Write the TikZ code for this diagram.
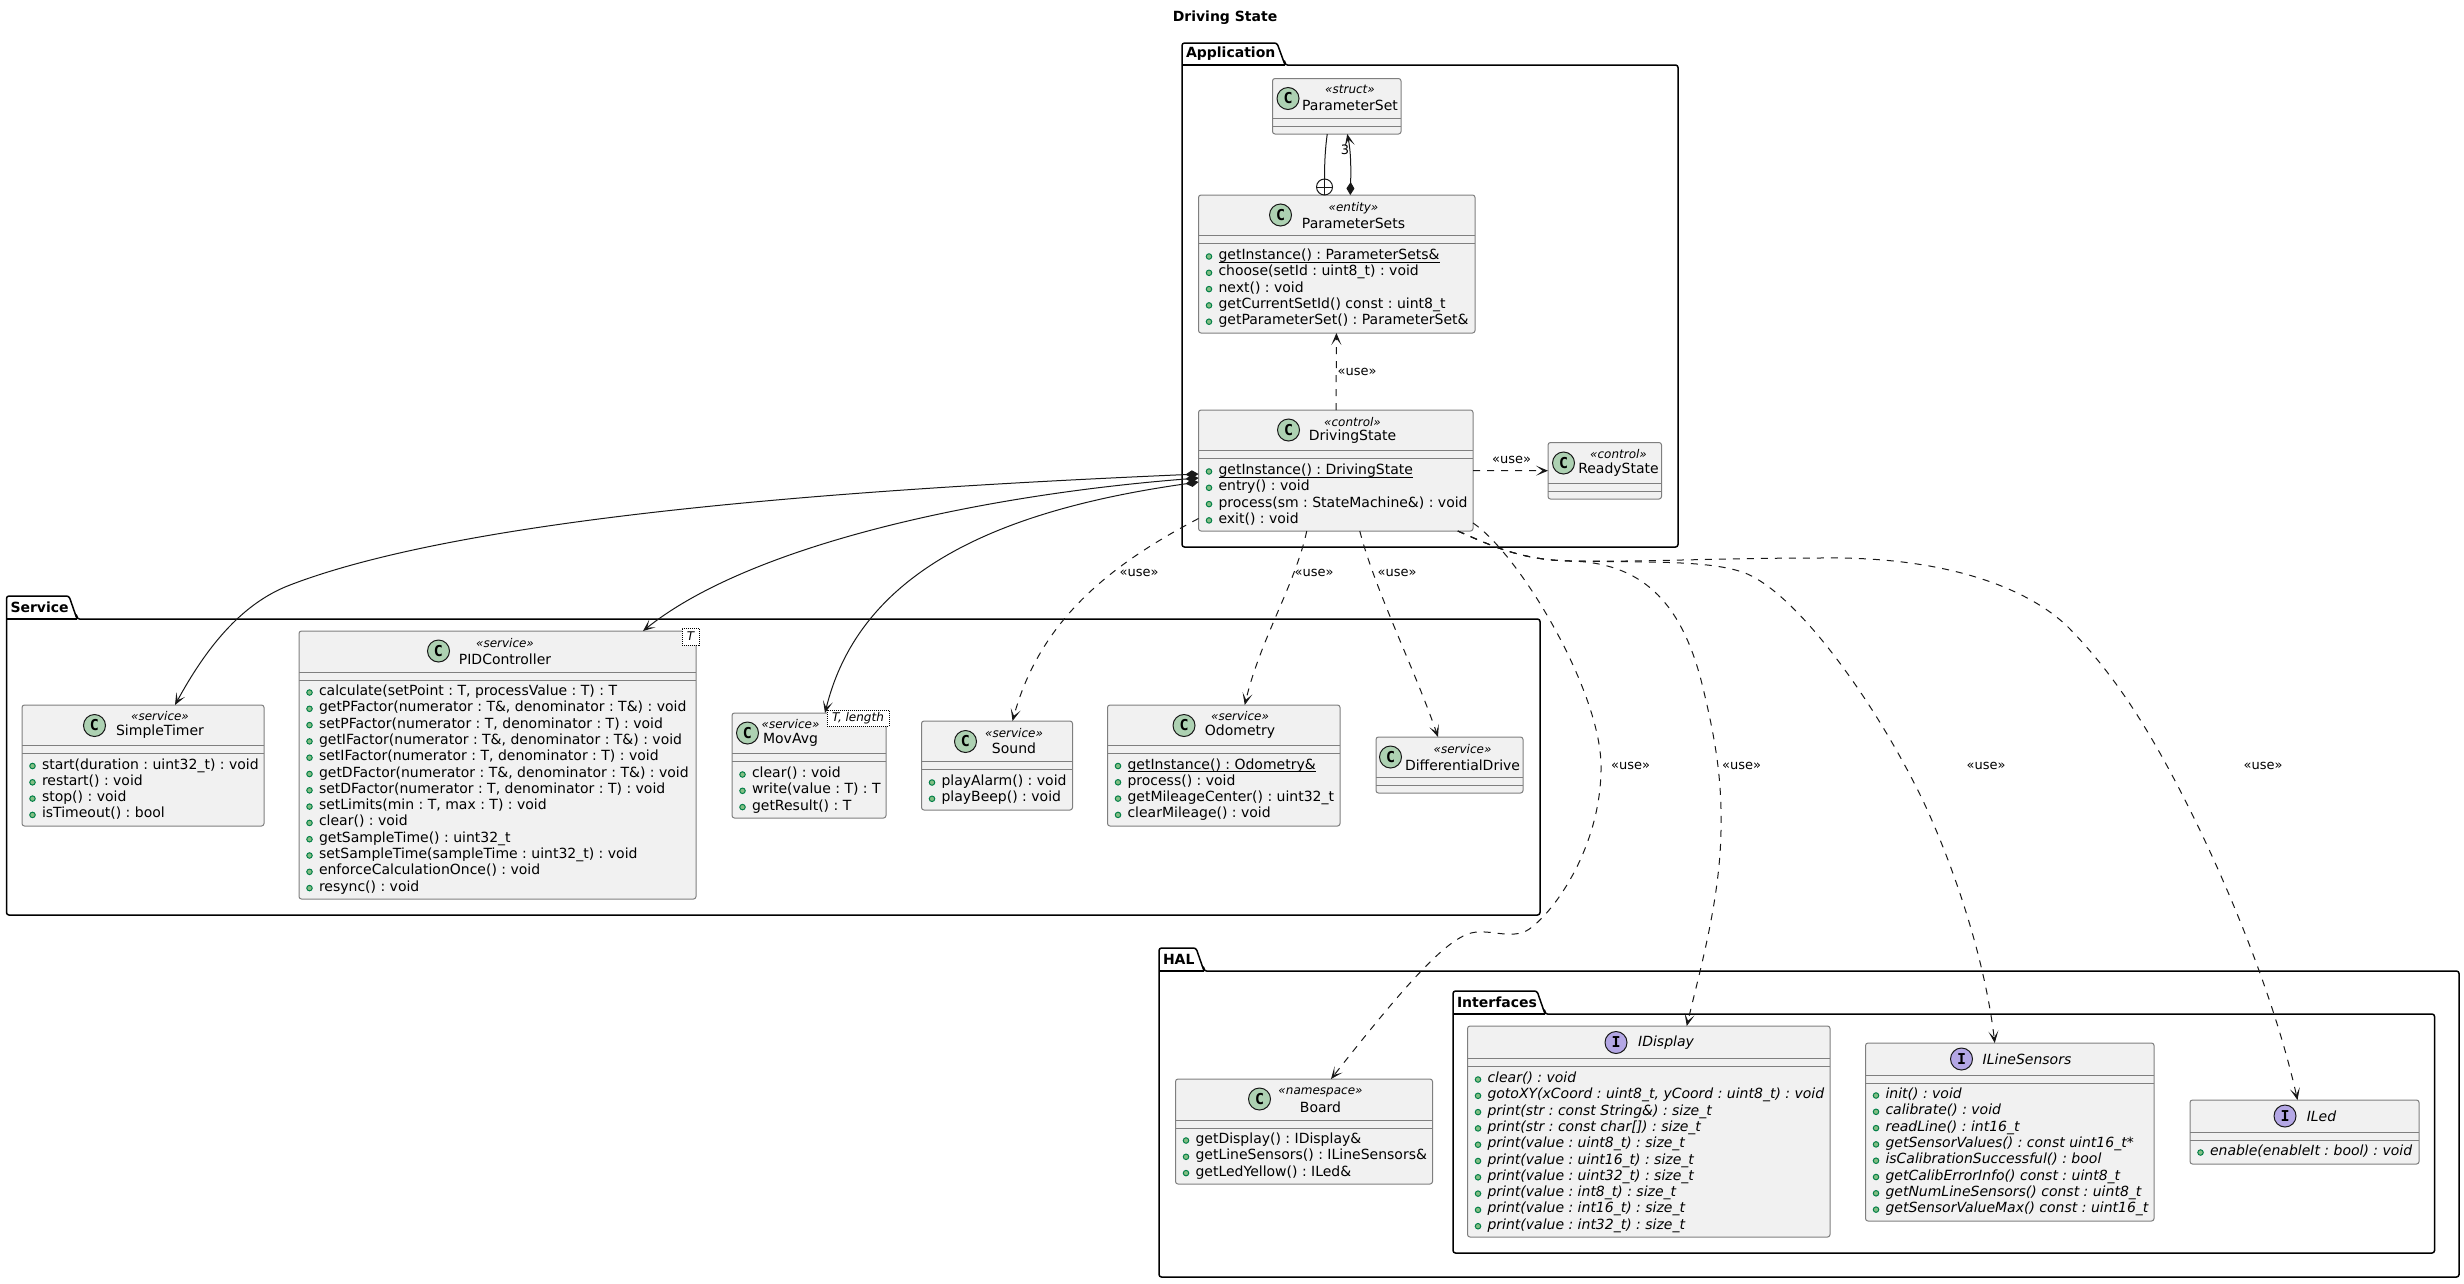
\documentclass[tikz,border=0pt]{standalone}
\usepackage{fontspec}
\setmainfont{DejaVu Sans}
\newfontfamily\spotfont{DejaVu Sans Mono}
\usetikzlibrary{arrows.meta}
\frenchspacing
\definecolor{classfill}{HTML}{F1F1F1}
\definecolor{umlline}{HTML}{181818}
\definecolor{boxline}{HTML}{7F7F7F}
\definecolor{spotc}{HTML}{ADD1B2}
\definecolor{spoti}{HTML}{B4A7E5}
\definecolor{dotfill}{HTML}{84BE84}
\definecolor{dotline}{HTML}{038048}
\tikzset{
    every node/.style={inner sep=0, outer sep=0},
    base14/.style={font=\fontsize{14}{16}\selectfont},
    classbody/.style={draw=boxline, line width=1pt, fill=classfill, rounded corners=2.5pt},
    sepline/.style={draw=boxline, line width=1pt},
    pkgline/.style={draw=black, line width=1.5pt, rounded corners=2.5pt},
    pkgname/.style={font=\fontsize{14}{16}\selectfont\bfseries},
    spotmark/.style={shape=circle, draw=umlline, line width=1pt, minimum size=22pt,
        font=\fontsize{15}{16}\selectfont\spotfont\bfseries},
    stereotext/.style={font=\fontsize{12}{14}\selectfont\itshape},
    nametext/.style={base14},
    memberdot/.style={shape=circle, draw=dotline, line width=1pt, fill=dotfill, minimum size=5.5pt},
    membertext/.style={base14, anchor=west, text height=10pt, text depth=3pt},
    templatebox/.style={draw=black, dash pattern=on 1pt off 1pt, line width=1pt, fill=white,
        font=\fontsize{12}{14}\selectfont\itshape},
    umlopen/.tip={Stealth[length=12pt, width=10pt, inset=6.5pt]},
    ownarrow/.style={draw=umlline, line width=1pt, {Diamond[length=13pt, width=8pt]}-{umlopen}},
    usearrow/.style={draw=umlline, line width=1pt, dash pattern=on 7pt off 7pt, -{umlopen}},
    uselabel/.style={font=\fontsize{13}{15}\selectfont},
}
\newcommand{\ultext}[1]{\setbox0=\hbox{#1}\rlap{\rule[-3pt]{\wd0}{1pt}}\box0}
\newcommand{\umlpackage}[8]{
    \draw[pkgline] (#4,#5) -- (#6,#5) -- (#6,#7) -- (#2,#7) -- (#2,#3) -- ({#4-8},#3) -- (#4,#5) -- cycle;
    \draw[pkgline] (#2,#5) -- (#4,#5);
    \node (#1) at ({#2+4},{(#3+#5)/2}) [pkgname, anchor=west] {#8};
}
\newcommand{\classbox}[6]{
    \node (#1) at ({(#2+#4)/2},{(#3+#5)/2}) [classbody, minimum width={#4-#2}, minimum height={#5-#3}] {};
    \draw[sepline] (#2,#6) -- (#4,#6);
    \draw[sepline] (#2,{#6+8}) -- (#4,{#6+8});
}
\newcommand{\classhead}[8]{
    \node (#1-spot) at (#2,#3) [spotmark, fill=spotc] {C};
    \node (#1-stereo) at (#4,#5) [stereotext] {«#6»};
    \node (#1-name) at (#4,#7) [nametext] {#8};
}
\newcommand{\ifacehead}[5]{
    \node (#1-spot) at (#2,#3) [spotmark, fill=spoti] {I};
    \node (#1-name) at (#4,#3) [nametext] {\itshape #5};
}
\newcommand{\members}[5][]{
    \foreach \txt [count=\i from 0] in {#5} {
        \pgfmathsetmacro\rowy{#4+\i*16.3}
        \node (#2-d\i) at ({#3+10.5},{\rowy+0.5}) [memberdot] {};
        \node (#2-m\i) at ({#3+20},\rowy) [membertext] {#1\txt};
    }
}
\begin{document}
\begin{tikzpicture}[x=1pt, y=-1pt]
    \useasboundingbox (0,0) rectangle (2464,1283);

    \node (title) at (1225,18) [pkgname] {Driving State};

    \umlpackage{application}{1182}{43}{1285}{65}{1678}{547}{Application}
    \umlpackage{service}{6.5}{596}{77}{619}{1540}{915}{Service}
    \umlpackage{hal}{1159}{948}{1204}{971}{2459}{1277}{HAL}
    \umlpackage{interfaces}{1453}{991}{1545}{1014}{2434.5}{1253}{Interfaces}

    \classbox{parameterset}{1272.5}{78.5}{1401}{134}{118}
    \classhead{parameterset}{1288}{98.5}{1350}{89.5}{struct}{105}{ParameterSet}

    \classbox{parametersets}{1198.5}{195}{1475}{333}{235}
    \classhead{parametersets}{1280.5}{215}{1353.5}{208}{entity}{223}{ParameterSets}
    \members{parametersets}{1198.5}{256}{\ultext{getInstance() : ParameterSets\&},
        choose(setId : uint8\_t) : void, next() : void,
        getCurrentSetId() const : uint8\_t, getParameterSet() : ParameterSet\&}

    \classbox{drivingstate}{1198.5}{410}{1473}{531}{450}
    \classhead{drivingstate}{1288.5}{430}{1352.5}{422}{control}{437}{DrivingState}
    \members{drivingstate}{1198.5}{471}{\ultext{getInstance() : DrivingState},
        entry() : void, process(sm : StateMachine\&) : void, exit() : void}

    \classbox{readystate}{1548}{442.5}{1661.5}{499}{483}
    \classhead{readystate}{1563.5}{463}{1618.5}{454.5}{control}{470}{ReadyState}

    \classbox{simpletimer}{22}{705}{264}{826}{745}
    \classhead{simpletimer}{94.5}{725.5}{160}{716.5}{service}{732}{SimpleTimer}
    \members{simpletimer}{22}{765.5}{start(duration : uint32\_t) : void, restart() : void,
        stop() : void, isTimeout() : bool}

    \classbox{pidcontroller}{299}{631}{696}{899}{672}
    \classhead{pidcontroller}{438.5}{651}{505}{643.5}{service}{659}{PIDController}
    \members{pidcontroller}{299}{692}{calculate(setPoint : T{,} processValue : T) : T,
        getPFactor(numerator : T\&{,} denominator : T\&) : void,
        setPFactor(numerator : T{,} denominator : T) : void,
        getIFactor(numerator : T\&{,} denominator : T\&) : void,
        setIFactor(numerator : T{,} denominator : T) : void,
        getDFactor(numerator : T\&{,} denominator : T\&) : void,
        setDFactor(numerator : T{,} denominator : T) : void,
        setLimits(min : T{,} max : T) : void, clear() : void,
        getSampleTime() : uint32\_t, setSampleTime(sampleTime : uint32\_t) : void,
        enforceCalculationOnce() : void, resync() : void}
    \node (pidcontroller-tpl) at (690.5,636.5) [templatebox, minimum width=17, minimum height=17] {T};

    \classbox{movavg}{732}{713}{886}{818}{753}
    \classhead{movavg}{747.5}{733}{790.5}{724.5}{service}{740}{MovAvg}
    \members{movavg}{732}{774}{clear() : void, write(value : T) : T, getResult() : T}
    \node (movavg-tpl) at (858,718) [templatebox, minimum width=62, minimum height=16] {T, length};

    \classbox{sound}{921.5}{721}{1072.5}{810}{761}
    \classhead{sound}{965.5}{741.5}{1014}{733.5}{service}{748}{Sound}
    \members{sound}{921.5}{782}{playAlarm() : void, playBeep() : void}

    \classbox{odometry}{1107.5}{705}{1340}{826}{745}
    \classhead{odometry}{1184}{725.5}{1240}{716.5}{service}{732}{Odometry}
    \members{odometry}{1107.5}{765.5}{\ultext{getInstance() : Odometry\&}, process() : void,
        getMileageCenter() : uint32\_t, clearMileage() : void}

    \classbox{differentialdrive}{1376}{737}{1523}{793}{777}
    \classhead{differentialdrive}{1390.5}{757}{1462.5}{749.5}{service}{765}{DifferentialDrive}

    \classbox{board}{1175.5}{1079}{1432.5}{1184}{1120}
    \classhead{board}{1259.5}{1099}{1320.5}{1092}{namespace}{1107}{Board}
    \members{board}{1175.5}{1140}{getDisplay() : IDisplay\&, getLineSensors() : ILineSensors\&,
        getLedYellow() : ILed\&}

    \classbox{idisplay}{1467.5}{1026}{1830}{1237}{1058}
    \ifacehead{idisplay}{1616}{1042.5}{1666}{IDisplay}
    \members[\itshape]{idisplay}{1467.5}{1079}{clear() : void,
        gotoXY(xCoord : uint8\_t{,} yCoord : uint8\_t) : void,
        print(str : const String\&) : size\_t, print(str : const char[]) : size\_t,
        print(value : uint8\_t) : size\_t, print(value : uint16\_t) : size\_t,
        print(value : uint32\_t) : size\_t, print(value : int8\_t) : size\_t,
        print(value : int16\_t) : size\_t, print(value : int32\_t) : size\_t}

    \classbox{ilinesensors}{1865.5}{1043}{2154}{1221}{1075}
    \ifacehead{ilinesensors}{1961.5}{1059}{2027}{ILineSensors}
    \members[\itshape]{ilinesensors}{1865.5}{1095}{init() : void, calibrate() : void,
        readLine() : int16\_t, getSensorValues() : const uint16\_t*,
        isCalibrationSuccessful() : bool, getCalibErrorInfo() const : uint8\_t,
        getNumLineSensors() const : uint8\_t, getSensorValueMax() const : uint16\_t}

    \classbox{iled}{2190}{1100}{2419}{1164}{1132}
    \ifacehead{iled}{2285}{1116}{2321.5}{ILed}
    \members[\itshape]{iled}{2190}{1152}{enable(enableIt : bool) : void}

    \node (nestmark) at (1324.5,187) [shape=circle, draw=umlline, line width=1pt, fill=white, minimum size=16pt] {};
    \draw[umlline, line width=1pt] (nestmark.north) -- (nestmark.south);
    \draw[umlline, line width=1pt] (nestmark.west) -- (nestmark.east);
    \draw[umlline, line width=1pt] ([xshift=-9.5]parameterset.south) .. controls (1325,150) and (1324.5,165) .. (nestmark.north);
    \draw[ownarrow] ([xshift=13.5]parametersets.north) .. controls (1351,170) and (1351,152) .. ([xshift=10.5]parameterset.south);
    \node (multi) at (1345,150) [uselabel] {3};

    \draw[usearrow] (drivingstate) -- (parametersets);
    \node (use-a) at (1357,371.5) [uselabel] {«use»};
    \draw[usearrow] (drivingstate) -- (readystate);
    \node (use-b) at (1511.5,459.5) [uselabel] {«use»};

    \draw[ownarrow] ([yshift=-3.5]drivingstate.west) .. controls (900,487) and (480,512) .. (290,585) .. controls (240,604) and (205,650) .. ([xshift=32]simpletimer.north);
    \draw[ownarrow] ([yshift=-7.5]drivingstate.west) .. controls (980,495) and (750,545) .. ([xshift=145.5]pidcontroller.north);
    \draw[ownarrow] ([yshift=-11.5]drivingstate.west) .. controls (1000,510) and (860,570) .. ([xshift=16]movavg.north);

    \draw[usearrow] ([yshift=-48]drivingstate.west) .. controls (1110,565) and (1040,620) .. ([xshift=15.5]sound.north);
    \node (use-c) at (1139,573) [uselabel] {«use»};
    \draw[usearrow] ([xshift=-29]drivingstate.south) .. controls (1295,585) and (1260,640) .. ([xshift=21]odometry.north);
    \node (use-d) at (1314,573) [uselabel] {«use»};
    \draw[usearrow] ([xshift=24]drivingstate.south) .. controls (1375,590) and (1415,670) .. ([xshift=-11.5]differentialdrive.north);
    \node (use-e) at (1397,573) [uselabel] {«use»};

    \draw[usearrow] ([yshift=-52.5]drivingstate.east) .. controls (1520,555) and (1600,690) .. (1601,765) .. controls (1602,840) and (1560,905) .. (1532,927) .. controls (1515,942) and (1490,928) .. (1471,933) .. controls (1445,940) and (1405,985) .. ([xshift=27]board.north);
    \node (use-f) at (1630.5,766) [uselabel] {«use»};
    \draw[usearrow] ([xshift=122]drivingstate.south) .. controls (1490,545) and (1520,560) .. (1570,561) .. controls (1640,562.5) and (1680,600) .. (1701,680) .. controls (1716,740) and (1722,780) .. (1721,830) .. controls (1720,900) and (1700,970) .. ([xshift=38]idisplay.north);
    \node (use-g) at (1741.5,766) [uselabel] {«use»};
    \draw[usearrow] ([xshift=122]drivingstate.south) .. controls (1490,545) and (1520,560) .. (1570,561) .. controls (1650,562.5) and (1710,560) .. (1745,573) .. controls (1800,595) and (1880,710) .. (1925,805) .. controls (1955,870) and (1985,960) .. ([xshift=-15]ilinesensors.north);
    \node (use-h) at (1986,766) [uselabel] {«use»};
    \draw[usearrow] ([xshift=122]drivingstate.south) .. controls (1490,545) and (1520,560) .. (1570,561) .. controls (1650,562) and (1720,558) .. (1820,558) .. controls (1950,556) and (2030,590) .. (2068,627) .. controls (2115,675) and (2150,730) .. (2190,810) .. controls (2230,890) and (2275,1000) .. ([xshift=-7]iled.north);
    \node (use-i) at (2263,766) [uselabel] {«use»};
\end{tikzpicture}
\end{document}
